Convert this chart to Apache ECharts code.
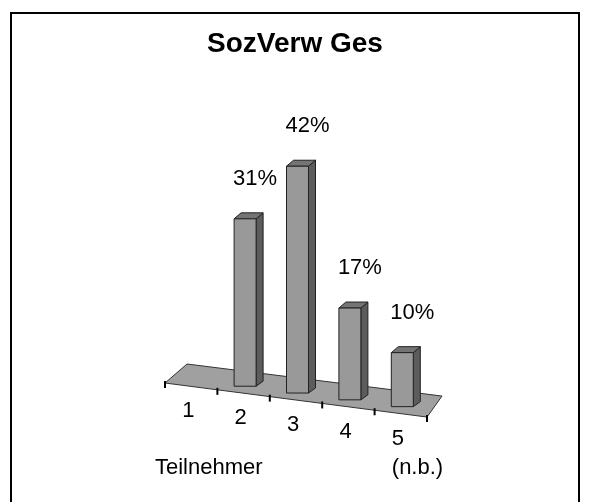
<!DOCTYPE html>
<html>
<head>
<meta charset="utf-8">
<script src="https://cdn.jsdelivr.net/npm/echarts@6/dist/echarts.min.js"></script>
<style>
  html, body { margin: 0; padding: 0; background: #fff; }
  #chart1 { width: 590px; height: 502px; }
</style>
</head>
<body>
<div id="chart1"></div>
<script>
const categories = ['1', '2', '3', '4', '5\n(n.b.)'];
const shares = [0, 31, 42, 17, 10];
const shareLabels = ['', '31%', '42%', '17%', '10%'];
const axisTitle = 'Teilnehmer';
const chartTitle = 'SozVerw Ges';

const FONT = '"Liberation Sans", Arial, sans-serif';
const SLOPE = 0.13; // der Boden faellt nach rechts ab

const initChart = () => {
  const chart1 = echarts.init(document.getElementById('chart1'));

  // Boden, Teilstriche, Achsentitel
  const renderFloor = (params, api) => {
    const cs = params.coordSys;
    const base = api.coord([0, 0])[1];
    const left = cs.x;
    const right = cs.x + cs.width;
    const yl = base + 7;
    const yr = yl + SLOPE * cs.width;
    const band = cs.width / categories.length;
    const children = [{
      type: 'polygon',
      shape: { points: [[left, yl], [right, yr], [right + 15, yr - 21], [left + 22, yl - 19]] },
      style: { fill: '#a0a0a0', stroke: '#333', lineWidth: 1 }
    }];
    for (let j = 0; j <= categories.length; j++) {
      const x = left + j * band;
      const y = yl + SLOPE * j * band;
      children.push({
        type: 'line',
        shape: { x1: x, y1: y - 2, x2: x, y2: y + 5 },
        style: { stroke: '#000', lineWidth: 2 }
      });
    }
    children.push({
      type: 'text',
      x: left - 10,
      y: base + 92,
      style: { text: axisTitle, font: '22px ' + FONT, fill: '#000', verticalAlign: 'middle' }
    });
    return { type: 'group', children };
  };

  const renderBar = (params, api) => {
    const cs = params.coordSys;
    const i = api.value(0);
    const v = api.value(1);
    const base = api.coord([i, 0]);
    const top = api.coord([i, v]);
    const dy = SLOPE * (base[0] - cs.x);
    const cx = base[0] + 1.5;
    const x0 = cx - 11;
    const x1 = cx + 11;
    const yb = base[1] + dy;
    const yt = top[1] + dy;
    const dx = 7, dz = -6;
    const children = [];
    if (v > 0) {
      children.push({
        type: 'polygon',
        shape: { points: [[x1, yt], [x1 + dx, yt + dz], [x1 + dx, yb + dz + SLOPE * dx], [x1, yb]] },
        style: { fill: '#5c5c5c', stroke: '#222', lineWidth: 1 }
      }, {
        type: 'polygon',
        shape: { points: [[x0, yt], [x1, yt], [x1 + dx, yt + dz], [x0 + dx, yt + dz]] },
        style: { fill: '#747474', stroke: '#222', lineWidth: 1 }
      }, {
        type: 'rect',
        shape: { x: x0, y: yt, width: x1 - x0, height: yb - yt },
        style: { fill: '#999', stroke: '#222', lineWidth: 1 }
      }, {
        type: 'text',
        x: cx + 10,
        y: yt - 40,
        style: {
          text: shareLabels[i], font: '22px ' + FONT, fill: '#000',
          align: 'center', verticalAlign: 'middle'
        }
      });
    }
    children.push({
      type: 'text',
      x: base[0] - 9,
      y: yb + 32 - 14.5,
      style: {
        text: categories[i], font: '22px ' + FONT, fill: '#000',
        align: 'left', verticalAlign: 'top', lineHeight: 29
      }
    });
    return { type: 'group', children };
  };

  const option = {
    animation: false,
    title: {
      text: chartTitle,
      left: 'center',
      top: 25,
      textStyle: { fontSize: 28, fontWeight: 'bold', color: '#000', fontFamily: FONT }
    },
    graphic: [{
      type: 'rect',
      shape: { x: 11, y: 13, width: 568, height: 500 },
      style: { fill: 'none', stroke: '#000', lineWidth: 2 }
    }],
    grid: { left: 165, right: 163, top: 106, bottom: 126 },
    xAxis: { type: 'category', data: categories, show: false },
    yAxis: { type: 'value', min: 0, max: 50, show: false },
    series: [{
      type: 'custom',
      z: 1,
      renderItem: renderFloor,
      data: [[0, 0]]
    }, {
      type: 'custom',
      z: 2,
      renderItem: renderBar,
      encode: { x: 0, y: 1 },
      data: shares.map((v, i) => [i, v])
    }]
  };

  chart1.setOption(option);
};

document.addEventListener('DOMContentLoaded', () => {
  initChart();
});
</script>
</body>
</html>
